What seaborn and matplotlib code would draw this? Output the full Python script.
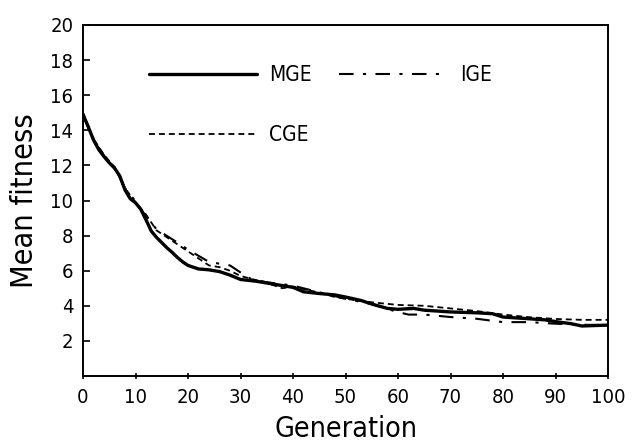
import matplotlib
matplotlib.use("Agg")
import matplotlib.pyplot as plt
from matplotlib import font_manager
import seaborn as sns
import pandas as pd

# ---- data ----
mge_gen = [0, 1, 2, 3, 4, 5, 6, 7, 8, 9, 10, 11, 12, 13, 14, 15, 16, 17, 18, 19, 20,
           22, 24, 26, 28, 30, 33, 36, 40, 42, 45, 48, 50, 53, 55, 58, 60, 63, 65,
           70, 75, 78, 80, 85, 88, 90, 93, 95, 100]
mge_val = [14.9, 14.2, 13.45, 12.9, 12.5, 12.15, 11.85, 11.4, 10.6, 10.1, 9.87, 9.5, 8.9,
           8.26, 7.9, 7.6, 7.3, 7.04, 6.75, 6.5, 6.3, 6.1, 6.05, 5.95, 5.75, 5.5, 5.4,
           5.25, 5.05, 4.8, 4.7, 4.62, 4.5, 4.3, 4.1, 3.85, 3.8, 3.85, 3.75, 3.65, 3.6,
           3.55, 3.36, 3.26, 3.2, 3.1, 2.98, 2.85, 2.9]

ige_gen = [0, 2, 4, 6, 8, 10, 12, 14, 16, 18, 20, 22, 24, 26, 28, 30, 32, 35, 40, 45,
           50, 55, 60, 62, 65, 70, 75, 80, 85, 90, 95, 100]
ige_val = [14.9, 13.5, 12.55, 11.9, 10.7, 9.95, 9.1, 8.36, 7.98, 7.6, 7.2, 6.85, 6.5, 6.4,
           6.3, 5.9, 5.53, 5.34, 5.15, 4.77, 4.4, 4.1, 3.64, 3.5, 3.5, 3.36, 3.26, 3.07,
           3.07, 2.98, 2.92, 2.9]

cge_gen = [0, 2, 4, 6, 8, 10, 12, 14, 16, 18, 20, 22, 24, 26, 28, 30, 35, 38, 40, 45,
           48, 50, 55, 60, 65, 70, 75, 80, 85, 90, 95, 100]
cge_val = [15.0, 13.5, 12.6, 11.9, 10.7, 9.9, 9.2, 8.3, 7.9, 7.5, 7.1, 6.7, 6.3, 6.2,
           6.0, 5.7, 5.3, 5.0, 5.1, 4.75, 4.5, 4.4, 4.2, 4.05, 4.0, 3.85, 3.7, 3.5,
           3.35, 3.25, 3.2, 3.2]

x_ticks = list(range(0, 101, 10))
y_ticks = list(range(2, 21, 2))

sns.set_style("ticks")

# pick a condensed face if one is installed
cond = None
for f in font_manager.fontManager.ttflist:
    st = str(f.stretch).lower()
    if ("narrow" in f.name.lower() or "condensed" in f.name.lower()
            or st in ("condensed", "semi-condensed", "extra-condensed")
            or (isinstance(f.stretch, int) and f.stretch < 500)):
        if "italic" in str(f.style).lower() or "oblique" in str(f.style).lower():
            continue
        if f.weight not in (400, "normal", "regular", "book"):
            continue
        cond = f
        break

if cond is not None:
    font_manager.fontManager.addfont(cond.fname)
    plt.rcParams["font.family"] = [cond.name, "DejaVu Sans"]
    plt.rcParams["font.stretch"] = cond.stretch
    scale = 1.0
else:
    plt.rcParams["font.family"] = ["Roboto", "DejaVu Sans"]
    scale = 0.92

for k in ("text.color", "axes.labelcolor", "xtick.color", "ytick.color", "axes.edgecolor"):
    plt.rcParams[k] = "black"

fig = plt.figure(figsize=(6.32, 4.46), dpi=100)
ax = fig.add_axes([83 / 632, 1 - 376 / 446, (608 - 83) / 632, (376 - 25) / 446])

df_m = pd.DataFrame({"g": mge_gen, "v": mge_val})
df_i = pd.DataFrame({"g": ige_gen, "v": ige_val})
df_c = pd.DataFrame({"g": cge_gen, "v": cge_val})

sns.lineplot(data=df_m, x="g", y="v", ax=ax, color="black", lw=2.4, label="MGE")
sns.lineplot(data=df_c, x="g", y="v", ax=ax, color="black", lw=1.3, label="CGE")
sns.lineplot(data=df_i, x="g", y="v", ax=ax, color="black", lw=1.5, label="IGE")
ax.lines[1].set_dashes((3.3, 2.2))
ax.lines[2].set_dashes((7, 4.5, 1.5, 4.5))

ax.set_xlim(0, 100)
ax.set_ylim(0, 20)
ax.set_xticks(x_ticks)
ax.set_yticks(y_ticks)
ax.tick_params(axis="y", direction="in", length=5, width=1.2, labelsize=14.5 * scale, pad=7,
               colors="black")
ax.tick_params(axis="x", direction="inout", length=5, width=1.2, labelsize=14.5 * scale, pad=6,
               colors="black")
for s in ax.spines.values():
    s.set_visible(True)
    s.set_linewidth(1.4)
    s.set_color("black")

ax.set_xlabel("Generation", fontsize=20.5 * scale, labelpad=6, color="black")
ax.set_ylabel("Mean fitness", fontsize=22 * scale, labelpad=8, color="black")

h, l = ax.get_legend_handles_labels()
leg = ax.legend(h, l, ncol=2, loc="upper left", bbox_to_anchor=(0.125, 0.885),
                frameon=False, fontsize=15 * scale, handlelength=5.2, handletextpad=0.6,
                labelspacing=1.9, columnspacing=1.3, borderpad=0, borderaxespad=0)
for t in leg.get_texts():
    t.set_color("black")

fig.savefig("out.png", dpi=100)
